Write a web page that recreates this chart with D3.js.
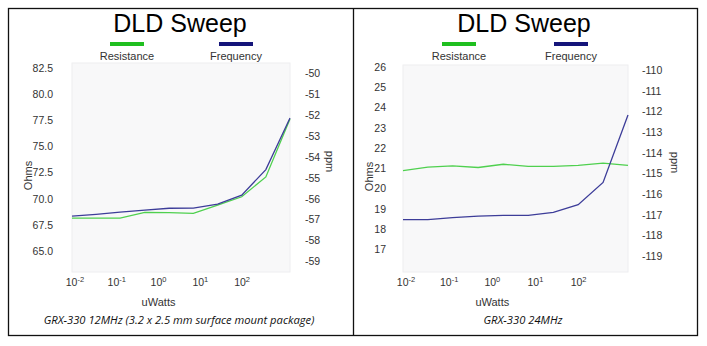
<!DOCTYPE html>
<html>
<head>
<meta charset="utf-8">
<script src="https://cdn.jsdelivr.net/npm/d3@7"></script>
<style>
  body { margin: 0; background: #fff; }
  text { font-family: "Liberation Sans", Arial, sans-serif; fill: #333; }
</style>
</head>
<body>
<script>
// sweep drive level, uW (same steps on both panels)
var power = [0.0085, 0.032, 0.12, 0.47, 1.8, 6.8, 26, 98, 370, 1400];

// GRX-330 12MHz
var res12  = [68.16, 68.16, 68.16, 68.70, 68.69, 68.61, 69.40, 70.20, 72.10, 77.64];
var freq12 = [-56.83, -56.74, -56.64, -56.54, -56.45, -56.44, -56.25, -55.82, -54.60, -52.13];

// GRX-330 24MHz
var res24  = [20.90, 21.07, 21.13, 21.05, 21.21, 21.10, 21.10, 21.15, 21.26, 21.15];
var freq24 = [-117.22, -117.22, -117.12, -117.05, -117.01, -117.01, -116.87, -116.50, -115.42, -112.17];

// tick labels
var ohmTicks12 = [65, 67.5, 70, 72.5, 75, 77.5, 80, 82.5];
var ppmTicks12 = [-59, -58, -57, -56, -55, -54, -53, -52, -51, -50];
var ohmTicks24 = [17, 18, 19, 20, 21, 22, 23, 24, 25, 26];
var ppmTicks24 = [-119, -118, -117, -116, -115, -114, -113, -112, -111, -110];
var decades = [-2, -1, 0, 1, 2];

var w = 707;
var h = 346;

var svg = d3.select("body")
  .append("svg")
  .attr("width", w)
  .attr("height", h);

// outer frame and divider
svg.append("rect")
  .attr("x", 8.5).attr("y", 8.5)
  .attr("width", 689).attr("height", 327)
  .attr("fill", "none").attr("stroke", "#111").attr("stroke-width", 1.3);
svg.append("line")
  .attr("x1", 353.5).attr("x2", 353.5).attr("y1", 8.5).attr("y2", 335.5)
  .attr("stroke", "#111").attr("stroke-width", 1.3);

var panels = [
  { left: 72, right: 290, top: 63, bottom: 272, mid: 180,
    legRes: 127, legFreq: 236, capX: 179,
    res: res12, freq: freq12, ohmDom: [63, 83], ppmDom: [-59.5, -49.5],
    ohmTicks: ohmTicks12, ppmTicks: ppmTicks12, ohmFmt: d3.format(".1f"),
    ohmLabelX: 53, ppmLabelX: 305, ohmsX: 28, ppmX: 330,
    caption: "GRX-330 12MHz (3.2 x 2.5 mm surface mount package)" },
  { left: 403, right: 628, top: 65, bottom: 272, mid: 524,
    legRes: 459, legFreq: 571, capX: 523,
    res: res24, freq: freq24, ohmDom: [15.9, 26.1], ppmDom: [-119.75, -109.75],
    ohmTicks: ohmTicks24, ppmTicks: ppmTicks24, ohmFmt: d3.format("d"),
    ohmLabelX: 386, ppmLabelX: 642, ohmsX: 369, ppmX: 675,
    caption: "GRX-330 24MHz" }
];

panels.forEach(drawPanel);

function drawPanel(p) {
  var g = svg.append("g");

  var x = d3.scaleLog()
    .domain([power[0], power[power.length - 1]])
    .range([p.left, p.right]);
  var yOhm = d3.scaleLinear().domain(p.ohmDom).range([p.bottom, p.top]);
  var yPpm = d3.scaleLinear().domain(p.ppmDom).range([p.bottom, p.top]);

  // faint plot area
  g.append("rect")
    .attr("x", p.left).attr("y", p.top)
    .attr("width", p.right - p.left).attr("height", p.bottom - p.top)
    .attr("fill", "#f8f8f9").attr("stroke", "#eeeef0");

  // title
  g.append("text")
    .attr("x", p.mid).attr("y", 32)
    .attr("text-anchor", "middle")
    .style("font-size", "25px").style("fill", "#000")
    .text("DLD Sweep");

  // legend
  var legend = [
    { cx: p.legRes, color: "#1fbf1f", label: "Resistance" },
    { cx: p.legFreq, color: "#15157a", label: "Frequency" }
  ];
  legend.forEach(function(d) {
    g.append("line")
      .attr("x1", d.cx - 17).attr("x2", d.cx + 17)
      .attr("y1", 44).attr("y2", 44)
      .attr("stroke", d.color).attr("stroke-width", 4);
    g.append("text")
      .attr("x", d.cx).attr("y", 60)
      .attr("text-anchor", "middle")
      .style("font-size", "11px")
      .text(d.label);
  });

  // left axis labels
  g.selectAll(".ohm")
    .data(p.ohmTicks)
    .enter()
    .append("text")
    .attr("x", p.ohmLabelX)
    .attr("y", function(d) { return yOhm(d); })
    .attr("dy", "0.35em")
    .attr("text-anchor", "end")
    .style("font-size", "10.5px")
    .text(p.ohmFmt);

  // right axis labels
  g.selectAll(".ppm")
    .data(p.ppmTicks)
    .enter()
    .append("text")
    .attr("x", p.ppmLabelX)
    .attr("y", function(d) { return yPpm(d); })
    .attr("dy", "0.35em")
    .style("font-size", "10.5px")
    .text(function(d) { return d.toString(); });

  // x axis labels 10^n
  var xt = g.selectAll(".xt")
    .data(decades)
    .enter()
    .append("text")
    .attr("x", function(d) { return x(Math.pow(10, d)); })
    .attr("y", 286)
    .attr("text-anchor", "middle")
    .style("font-size", "10.5px");
  xt.append("tspan").text("10");
  xt.append("tspan")
    .attr("dy", -4)
    .style("font-size", "7.5px")
    .text(function(d) { return d.toString(); });

  g.append("text")
    .attr("x", (x(0.01) + x(100)) / 2).attr("y", 306)
    .attr("text-anchor", "middle")
    .style("font-size", "11px")
    .text("uWatts");

  g.append("text")
    .attr("transform", "translate(" + p.ohmsX + "," + ((p.top + p.bottom) / 2 + 8) + ") rotate(-90)")
    .attr("dy", "0.35em")
    .attr("text-anchor", "middle")
    .style("font-size", "11px")
    .text("Ohms");

  g.append("text")
    .attr("transform", "translate(" + p.ppmX + "," + ((p.top + p.bottom) / 2 - 6) + ") rotate(90)")
    .attr("dy", "0.35em")
    .attr("text-anchor", "middle")
    .style("font-size", "11px")
    .text("ppm");

  // series
  var lineRes = d3.line()
    .x(function(d, i) { return x(power[i]); })
    .y(function(d) { return yOhm(d); });
  var lineFreq = d3.line()
    .x(function(d, i) { return x(power[i]); })
    .y(function(d) { return yPpm(d); });

  g.append("path")
    .attr("d", lineRes(p.res))
    .attr("fill", "none").attr("stroke", "#4fd04f").attr("stroke-width", 1.3);
  g.append("path")
    .attr("d", lineFreq(p.freq))
    .attr("fill", "none").attr("stroke", "#3d3d99").attr("stroke-width", 1.3);

  // caption
  g.append("text")
    .attr("x", p.capX).attr("y", 324)
    .attr("text-anchor", "middle")
    .style("font-size", "11.2px").style("font-style", "italic").style("fill", "#111")
    .style("font-family", "'Open Sans', sans-serif")
    .text(p.caption);
}
</script>
</body>
</html>
